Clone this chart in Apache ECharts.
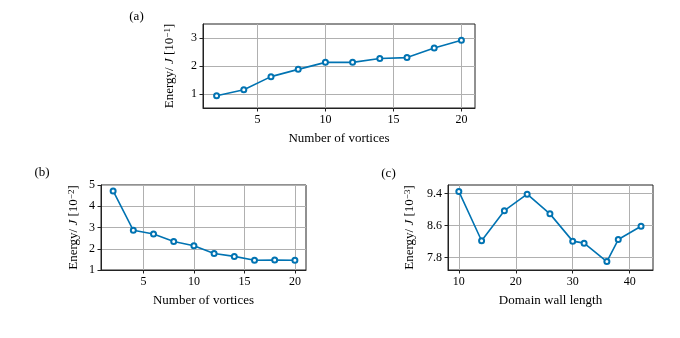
<!DOCTYPE html>
<html>
<head>
<meta charset="utf-8">
<script src="https://cdn.jsdelivr.net/npm/echarts@6/dist/echarts.min.js"></script>
<style>
html,body{margin:0;padding:0;background:#fff;}
#chart{width:680px;height:338px;}
</style>
</head>
<body>
<div id="chart"></div>
<script>
// ---- data ----
const vortices = [2, 4, 6, 8, 10, 12, 14, 16, 18, 20];
const energyA = [0.94, 1.15, 1.62, 1.88, 2.13, 2.13, 2.27, 2.30, 2.64, 2.92];
const energyB = [4.72, 2.87, 2.69, 2.34, 2.14, 1.78, 1.64, 1.46, 1.47, 1.46];
const wallLength = [10, 14, 18, 22, 26, 30, 32, 36, 38, 42];
const energyC = [9.45, 8.22, 8.97, 9.38, 8.89, 8.21, 8.16, 7.70, 8.25, 8.58];

const ticksVortX = [5, 10, 15, 20];
const ticksAY = [1, 2, 3];
const ticksBY = [1, 2, 3, 4, 5];
const ticksCX = [10, 20, 30, 40];
const ticksCY = [7.8, 8.6, 9.4];

const panelLabels = ['(a)', '(b)', '(c)'];
const xNames = ['Number of vortices', 'Number of vortices', 'Domain wall length'];
const yExponents = ['\u22121', '\u22122', '\u22123'];

// ---- styling ----
const FONT = '"Liberation Serif", "DejaVu Serif", serif';
const BLUE = '#0173b2';
const DARK = '#222222';
const GRIDC = '#b0b0b0';

function pairs(xs, ys) { return xs.map((x, i) => [x, ys[i]]); }

function xAxis(gi, min, max, ticks, name) {
  return {
    type: 'value', gridIndex: gi, min: min, max: max,
    name: name, nameLocation: 'middle', nameGap: 24,
    nameTextStyle: { fontFamily: FONT, fontSize: 13, color: '#000' },
    axisLine: { show: true, onZero: false, lineStyle: { color: DARK, width: 1 } },
    axisTick: { show: true, inside: false, length: 3.5, customValues: ticks, lineStyle: { color: DARK, width: 1 } },
    axisLabel: { customValues: ticks, fontFamily: FONT, fontSize: 12, color: '#000', margin: 6 },
    splitLine: { show: true, lineStyle: { color: GRIDC, width: 1 } }
  };
}
function yAxis(gi, min, max, ticks, exp, gap, dec) {
  return {
    type: 'value', gridIndex: gi, min: min, max: max,
    name: 'Energy/ {i|J} [10{s|' + exp + '}]',
    nameLocation: 'middle', nameGap: gap, nameRotate: 90,
    nameTextStyle: {
      fontFamily: FONT, fontSize: 13, color: '#000',
      rich: {
        i: { fontFamily: FONT, fontSize: 13, fontStyle: 'italic', color: '#000' },
        s: { fontFamily: FONT, fontSize: 9, color: '#000', verticalAlign: 'top', padding: [0, 0, 5, 0] }
      }
    },
    axisLine: { show: true, onZero: false, lineStyle: { color: DARK, width: 1 } },
    axisTick: { show: true, inside: false, length: 3.5, customValues: ticks, lineStyle: { color: DARK, width: 1 } },
    axisLabel: {
      customValues: ticks, fontFamily: FONT, fontSize: 12, color: '#000', margin: 6,
      formatter: v => dec ? v.toFixed(1) : String(Math.round(v))
    },
    splitLine: { show: true, lineStyle: { color: GRIDC, width: 1 } }
  };
}
function series(gi, data) {
  return {
    type: 'line', xAxisIndex: gi, yAxisIndex: gi, data: data,
    symbol: 'emptyCircle', symbolSize: 5, color: BLUE,
    itemStyle: { color: BLUE, borderWidth: 1.6 },
    lineStyle: { color: BLUE, width: 1.6 },
    emphasis: { disabled: true }, animation: false
  };
}
const gridBase = { show: true, borderColor: DARK, borderWidth: 1, backgroundColor: 'transparent', containLabel: false };

const option = {
  animation: false,
  grid: [
    Object.assign({ left: 203, top: 24, width: 272, height: 84 }, gridBase),
    Object.assign({ left: 101, top: 185, width: 205, height: 85 }, gridBase),
    Object.assign({ left: 448, top: 185, width: 205, height: 85 }, gridBase)
  ],
  xAxis: [
    xAxis(0, 1, 21, ticksVortX, xNames[0]),
    xAxis(1, 0.8, 21.1, ticksVortX, xNames[1]),
    xAxis(2, 8.1, 44.1, ticksCX, xNames[2])
  ],
  yAxis: [
    yAxis(0, 0.5, 3.5, ticksAY, yExponents[0], 26, false),
    yAxis(1, 1, 5, ticksBY, yExponents[1], 20, false),
    yAxis(2, 7.49, 9.61, ticksCY, yExponents[2], 31, true)
  ],
  series: [
    series(0, pairs(vortices, energyA)),
    series(1, pairs(vortices, energyB)),
    series(2, pairs(wallLength, energyC))
  ],
  graphic: [
    { type: 'text', x: 136.5, y: 17, style: { text: panelLabels[0], font: '13px ' + FONT, fill: '#000', align: 'center', verticalAlign: 'middle' } },
    { type: 'text', x: 42, y: 173, style: { text: panelLabels[1], font: '13px ' + FONT, fill: '#000', align: 'center', verticalAlign: 'middle' } },
    { type: 'text', x: 388.5, y: 174, style: { text: panelLabels[2], font: '13px ' + FONT, fill: '#000', align: 'center', verticalAlign: 'middle' } }
  ]
};
const chart = echarts.init(document.getElementById('chart'), null, { renderer: 'canvas' });
chart.setOption(option);
</script>
</body>
</html>
